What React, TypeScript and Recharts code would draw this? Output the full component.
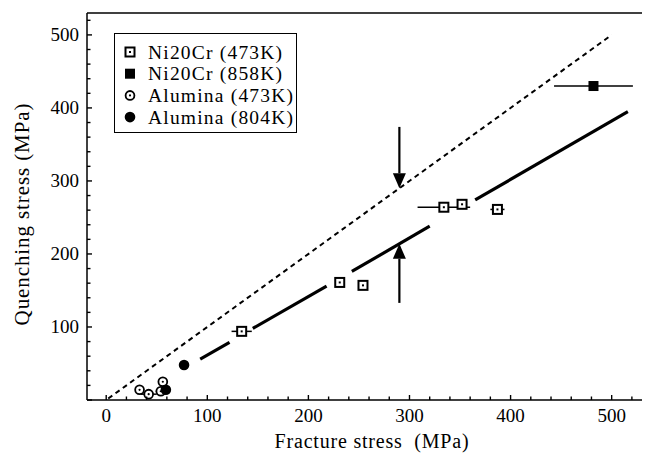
import { ScatterChart, Scatter, XAxis, YAxis, ReferenceLine, ErrorBar, Legend } from 'recharts';

// values (MPa)
const ni473 = [
  { x: 134, y: 94, ex: 10 },
  { x: 231, y: 161, ex: 0 },
  { x: 254, y: 157, ex: 0 },
  { x: 334, y: 264, ex: 26 },
  { x: 352, y: 268, ex: 0 },
  { x: 387, y: 261, ex: 7 },
];
const ni858 = [{ x: 482, y: 430, ex: 39 }];
const alu473 = [
  { x: 33, y: 14, ex: 0 },
  { x: 42, y: 8, ex: 8 },
  { x: 56, y: 25, ex: 0 },
  { x: 54, y: 12, ex: 5 },
];
const alu804 = [
  { x: 59, y: 14 },
  { x: 77, y: 48 },
];

// y = x reference (dashed) and fitted line pieces (solid, broken around points)
const equalLine = [
  { x: 2, y: 2 },
  { x: 500, y: 500 },
];
const fitPieces = [
  [{ x: 93, y: 56 }, { x: 122, y: 79 }],
  [{ x: 145, y: 98 }, { x: 218, y: 156 }],
  [{ x: 243, y: 176 }, { x: 320, y: 238 }],
  [{ x: 365, y: 274 }, { x: 516, y: 395 }],
];
const arrowX = 290;
const arrowDown = { from: 374, to: 290 };
const arrowUp = { from: 133, to: 214 };

const xTicks = [0, 20, 40, 60, 80, 100, 120, 140, 160, 180, 200, 220, 240, 260, 280, 300, 320, 340, 360, 380, 400, 420, 440, 460, 480, 500, 520];
const yTicks = [0, 20, 40, 60, 80, 100, 120, 140, 160, 180, 200, 220, 240, 260, 280, 300, 320, 340, 360, 380, 400, 420, 440, 460, 480, 500, 520];
const legendNames = ['Ni20Cr (473K)', 'Ni20Cr (858K)', 'Alumina (473K)', 'Alumina (804K)'];

const FONT = '"Liberation Serif", "Times New Roman", serif';

const OpenSquare = (p: any) => (
  <g>
    <rect x={p.cx - 4.5} y={p.cy - 4.5} width={9} height={9} fill="#fff" stroke="#000" strokeWidth={2} />
    <rect x={p.cx - 1} y={p.cy - 1} width={2} height={2} fill="#000" />
  </g>
);
const FilledSquare = (p: any) => <rect x={p.cx - 5} y={p.cy - 5} width={10} height={10} fill="#000" />;
const OpenCircle = (p: any) => (
  <g>
    <circle cx={p.cx} cy={p.cy} r={4.4} fill="#fff" stroke="#000" strokeWidth={1.8} />
    <circle cx={p.cx} cy={p.cy} r={1.1} fill="#000" />
  </g>
);
const FilledCircle = (p: any) => <circle cx={p.cx} cy={p.cy} r={5.3} fill="#000" />;
const symbols = [OpenSquare, FilledSquare, OpenCircle, FilledCircle];

const XTick = (p: any) => {
  const v = p.payload.value;
  const major = v % 100 === 0;
  return (
    <g>
      <line x1={p.x} y1={p.y} x2={p.x} y2={p.y - (major ? 5 : 3.5)} stroke="#000" strokeWidth={1.4} />
      {major && (
        <text x={p.x} y={p.y + 22} textAnchor="middle" fontSize={19} fontFamily={FONT} fill="#000">
          {v}
        </text>
      )}
    </g>
  );
};

const YTick = (p: any) => {
  const v = p.payload.value;
  const major = v % 100 === 0;
  return (
    <g>
      <line x1={p.x} y1={p.y} x2={p.x + (major ? 5 : 3.5)} y2={p.y} stroke="#000" strokeWidth={1.4} />
      {major && v > 0 && (
        <text x={p.x - 8} y={p.y + 6.5} textAnchor="end" fontSize={19} fontFamily={FONT} fill="#000">
          {v}
        </text>
      )}
    </g>
  );
};

const Arrow = (p: any) => {
  const dir = p.y2 > p.y1 ? 1 : -1;
  const head = 15;
  return (
    <g>
      <line x1={p.x1} y1={p.y1} x2={p.x2} y2={p.y2 - dir * head} stroke="#000" strokeWidth={2.2} />
      <polygon
        points={`${p.x2},${p.y2} ${p.x2 - 6.5},${p.y2 - dir * head} ${p.x2 + 6.5},${p.y2 - dir * head}`}
        fill="#000"
      />
    </g>
  );
};

const LegendBox = () => (
  <div style={{ width: 183, height: 100, border: '1.5px solid #000', boxSizing: 'border-box', background: '#fff' }}>
    <svg width={180} height={97}>
      {legendNames.map((name, i) => {
        const Sym = symbols[i];
        const cy = 18 + i * 21.7;
        return (
          <g key={name}>
            <Sym cx={15} cy={cy} />
            <text x={33} y={cy + 6.5} fontSize={19.5} fontFamily={FONT} letterSpacing={1.2} fill="#000">
              {name}
            </text>
          </g>
        );
      })}
    </svg>
  </div>
);

export default function App() {
  return (
    <div style={{ position: 'absolute', left: 0, top: 0, background: '#fff' }}>
      <ScatterChart width={655} height={458} margin={{ top: 13, right: 13, bottom: 0, left: 0 }}>
        <XAxis
          type="number"
          dataKey="x"
          domain={[-19, 530]}
          allowDataOverflow
          ticks={xTicks}
          interval={0}
          tick={<XTick />}
          tickLine={false}
          tickSize={0}
          tickMargin={0}
          height={58}
          axisLine={{ stroke: '#000', strokeWidth: 1.5 }}
          label={{
            content: () => (
              <text x={372} y={448} textAnchor="middle" fontSize={20} fontFamily={FONT} letterSpacing={0.8} fill="#000">
                Fracture stress{'\u00a0\u00a0'}(MPa)
              </text>
            ),
          }}
        />
        <YAxis
          type="number"
          dataKey="y"
          domain={[0, 530]}
          allowDataOverflow
          ticks={yTicks}
          interval={0}
          tick={<YTick />}
          tickLine={false}
          tickSize={0}
          tickMargin={0}
          width={87}
          axisLine={{ stroke: '#000', strokeWidth: 1.5 }}
          label={{
            content: () => (
              <text
                x={0}
                y={0}
                transform="translate(29, 214) rotate(-90)"
                textAnchor="middle"
                fontSize={21}
                fontFamily={FONT}
                letterSpacing={0.9}
                fill="#000"
              >
                Quenching stress (MPa)
              </text>
            ),
          }}
        />
        <ReferenceLine y={530} stroke="#000" strokeWidth={1.5} />
        <ReferenceLine segment={equalLine} stroke="#000" strokeWidth={2} strokeDasharray="5 4" />
        {fitPieces.map((seg, i) => (
          <ReferenceLine key={i} segment={seg} stroke="#000" strokeWidth={3.2} />
        ))}
        <ReferenceLine
          segment={[{ x: arrowX, y: arrowDown.from }, { x: arrowX, y: arrowDown.to }]}
          shape={Arrow}
        />
        <ReferenceLine
          segment={[{ x: arrowX, y: arrowUp.from }, { x: arrowX, y: arrowUp.to }]}
          shape={Arrow}
        />
        <Scatter name={legendNames[2]} data={alu473} shape={OpenCircle} isAnimationActive={false}>
          <ErrorBar dataKey="ex" direction="x" width={0} stroke="#000" strokeWidth={1.5} />
        </Scatter>
        <Scatter name={legendNames[3]} data={alu804} shape={FilledCircle} isAnimationActive={false} />
        <Scatter name={legendNames[0]} data={ni473} shape={OpenSquare} isAnimationActive={false}>
          <ErrorBar dataKey="ex" direction="x" width={0} stroke="#000" strokeWidth={1.5} />
        </Scatter>
        <Scatter name={legendNames[1]} data={ni858} shape={FilledSquare} isAnimationActive={false}>
          <ErrorBar dataKey="ex" direction="x" width={0} stroke="#000" strokeWidth={1.5} />
        </Scatter>
        <Legend
          layout="vertical"
          align="center"
          verticalAlign="middle"
          wrapperStyle={{ left: 114, top: 33, width: 183 }}
          content={() => <LegendBox />}
        />
      </ScatterChart>
    </div>
  );
}
